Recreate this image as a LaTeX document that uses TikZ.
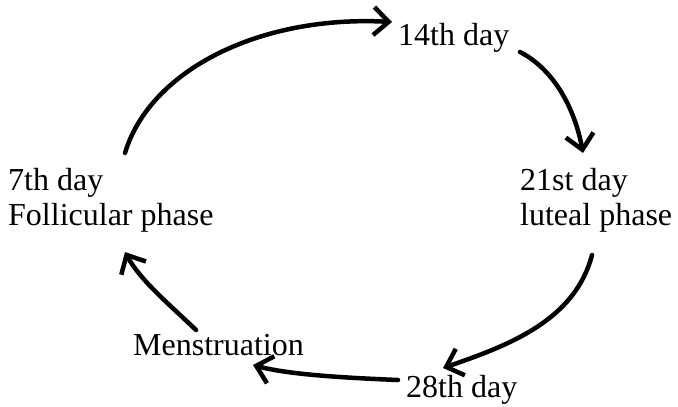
\documentclass[tikz,border=0pt]{standalone}
\usepackage{fontspec}
\setmainfont{Liberation Serif}
\usetikzlibrary{arrows.meta}
\tikzset{
  lbl/.style={inner sep=0pt, font=\fontsize{32}{38}\selectfont},
  cyc/.style={line width=4.5pt, line cap=round, -{Straight Barb[length=15pt,width=28pt,line width=4.5pt]}}
}
\begin{document}
\begin{tikzpicture}[x=1pt,y=-1pt]
\useasboundingbox (0,0) rectangle (678,407);
\node[lbl, anchor=base west] (d14) at (398,45) {14th day};
\node[lbl, anchor=base west] (d7) at (8,190) {7th day};
\node[lbl, anchor=base west] (fol) at (8,225) {Follicular phase};
\node[lbl, anchor=base west] (d21) at (520,190) {21st day};
\node[lbl, anchor=base west] (lut) at (520,225) {luteal phase};
\node[lbl, anchor=base west] (men) at (133,355) {Menstruation};
\node[lbl, anchor=base west] (d28) at (406,397) {28th day};
\coordinate (a1s) at (125,153);
\coordinate (a1e) at (392,22);
\coordinate (a2s) at (520,52);
\coordinate (a2e) at (583,153);
\coordinate (a3s) at (592,255);
\coordinate (a3e) at (443,368);
\coordinate (a4s) at (398,380);
\coordinate (a4e) at (253,365);
\coordinate (a5s) at (196,330);
\coordinate (a5e) at (125,252);
\draw[cyc] (a1s) .. controls (150,70) and (260,15) .. (a1e);
\draw[cyc] (a2s) .. controls (555,70) and (575,110) .. (a2e);
\draw[cyc] (a3s) .. controls (575,320) and (510,345) .. (a3e);
\draw[cyc] (a4s) .. controls (350,378) and (290,375) .. (a4e);
\draw[cyc] (a5s) .. controls (170,305) and (140,280) .. (a5e);
\end{tikzpicture}
\end{document}
